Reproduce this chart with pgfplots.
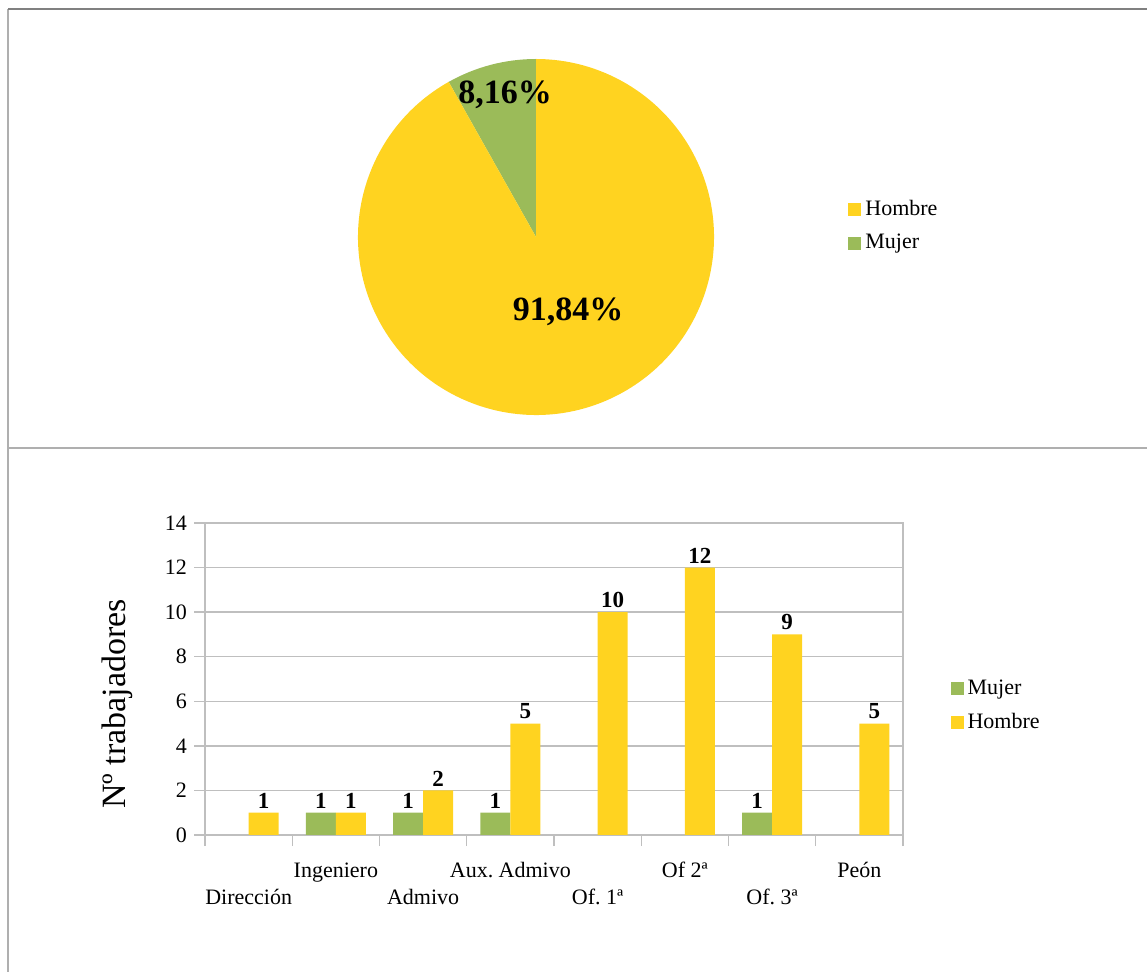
\documentclass[border=0pt]{standalone}
\usepackage{fontspec}
\setmainfont{Liberation Serif}
\usepackage{pgfplots}
\pgfplotsset{compat=1.18}

\definecolor{hombre}{RGB}{255,211,32}
\definecolor{mujer}{RGB}{155,187,89}
\definecolor{framec}{RGB}{175,175,175}
\definecolor{framedark}{RGB}{128,128,128}
\definecolor{gridc}{RGB}{191,191,191}

\pgfplotsset{
  legsq/.style={legend image code/.code={\fill[##1] (0pt,-3.2pt) rectangle (6.5pt,3.2pt);}},
  legfont/.style={font=\fontsize{11}{13.5}\selectfont},
}

% Gender shares (%)
\def\pctHombre{91.84}
\def\pctMujer{8.16}

\begin{document}
\frenchspacing
\begin{tikzpicture}
\path[use as bounding box] (0,0) rectangle (573.5pt,-486pt);
% panel frames
\draw[framec, line width=0.7pt] (4pt,-4.5pt) -- (4pt,-486pt);
\draw[framec, line width=0.8pt] (4pt,-224pt) -- (573.5pt,-224pt);
\draw[framedark, line width=0.7pt] (4pt,-4.5pt) -- (573.5pt,-4.5pt);

% ---------- pie: workers by gender ----------
\begin{axis}[
  hide axis, x=1pt, y=1pt,
  xmin=-100, xmax=100, ymin=-100, ymax=100,
  anchor=center, at={(268pt,-118.5pt)}, clip=false,
  legend style={at={(1.265,0.5275)}, anchor=west, draw=none, fill=none,
    legfont, cells={anchor=west}, row sep=4pt,
    /tikz/every even column/.append style={column sep=3pt}},
]
\addlegendimage{legsq, fill=hombre, draw=none}\addlegendentry{Hombre}
\addlegendimage{legsq, fill=mujer, draw=none}\addlegendentry{Mujer}
\fill[mujer] (axis cs:0,0) -- ++(90:89pt)
  arc[start angle=90, delta angle=\pctMujer*3.6, radius=89pt] -- cycle;
\fill[hombre] (axis cs:0,0) -- ++({90+\pctMujer*3.6}:89pt)
  arc[start angle={90+\pctMujer*3.6}, delta angle=\pctHombre*3.6, radius=89pt] -- cycle;
\node[font=\bfseries\fontsize{17}{20}\selectfont] at (axis cs:-15.5,71) {8,16\%};
\node[font=\bfseries\fontsize{17}{20}\selectfont] at (axis cs:16,-37.5) {91,84\%};
\end{axis}

% ---------- bars: workers by category and gender ----------
% categories sit at 0.5, 1.5, ..., 7.5; each bar is drawn at its own centre
\begin{axis}[
  at={(102.5pt,-417.5pt)}, anchor=south west,
  scale only axis, width=349pt, height=156pt,
  xmin=0, xmax=8, ymin=0, ymax=14,
  ytick={0,2,...,14},
  xtick={0,...,8}, xticklabels={},
  extra x ticks={0.5,1.5,...,7.5},
  extra x tick labels={{\strut\\Dirección},{\strut Ingeniero},{\strut\\Admivo},{\strut Aux. Admivo},
                       {\strut\\Of. 1ª},{\strut Of 2ª},{\strut\\Of. 3ª},{\strut Peón}},
  extra x tick style={major tick length=0pt, grid=none,
    tick label style={align=center, yshift=-8.5pt}},
  tick align=outside, xtick pos=bottom, ytick pos=left,
  major tick length=5.5pt,
  ymajorgrids, grid style={gridc, line width=0.7pt},
  axis line style={gridc, line width=0.7pt},
  tick style={gridc, line width=0.7pt},
  tick label style={font=\fontsize{11}{13.5}\selectfont},
  /pgf/number format/assume math mode=true,
  ylabel={Nº trabajadores},
  ylabel style={font=\fontsize{17}{20}\selectfont, at={(axis description cs:-0.125,0.42)}, anchor=center},
  legend style={at={(1.059,0.415)}, anchor=west, draw=none, fill=none,
    legfont, cells={anchor=west}, row sep=4pt,
    /tikz/every even column/.append style={column sep=3pt}},
]
\addplot[ybar, bar width=0.344, bar shift=0, fill=mujer, draw=none, legsq,
  nodes near coords, every node near coord/.append style={font=\bfseries\fontsize{11.5}{13}\selectfont, inner sep=2pt, black}]
  coordinates {(1.328,1) (2.328,1) (3.328,1) (6.328,1)};
\addlegendentry{Mujer}
\addplot[ybar, bar width=0.344, bar shift=0, fill=hombre, draw=none, legsq,
  nodes near coords, every node near coord/.append style={font=\bfseries\fontsize{11.5}{13}\selectfont, inner sep=2pt, black}]
  coordinates {(0.672,1) (1.672,1) (2.672,2) (3.672,5) (4.672,10) (5.672,12) (6.672,9) (7.672,5)};
\addlegendentry{Hombre}
\end{axis}
\end{tikzpicture}
\end{document}
